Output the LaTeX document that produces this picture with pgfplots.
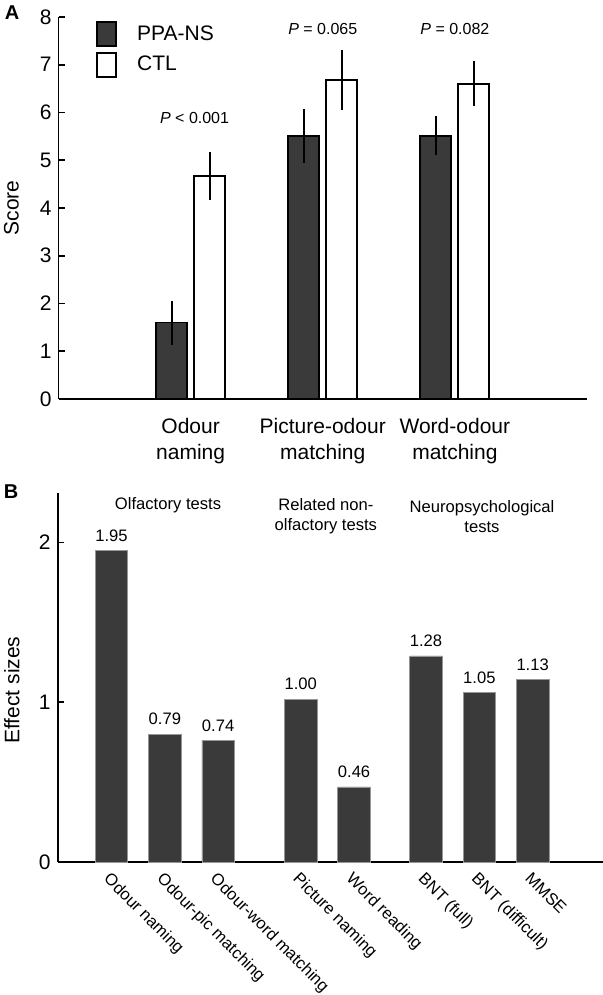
\documentclass[border=0pt]{standalone}
\usepackage{pgfplots}
\pgfplotsset{compat=1.18}
\usepackage{pgfplotstable}
\usepackage{fontspec}
\setmainfont{Liberation Sans}
\definecolor{darkbar}{RGB}{58,58,58}
\definecolor{edgegray}{RGB}{150,150,150}

\pgfplotstableread{
x y e
1 1.60 0.46
2 5.51 0.56
3 5.51 0.41
}\ppa
\pgfplotstableread{
x y e
1 4.67 0.50
2 6.68 0.62
3 6.60 0.47
}\ctl
\pgfplotstableread{
x y lab
0 1.95 1.95
1 0.80 0.79
2 0.76 0.74
3.55 1.02 1.00
4.55 0.47 0.46
5.9 1.29 1.28
6.9 1.06 1.05
7.9 1.14 1.13
}\effect

\begin{document}
\begin{tikzpicture}
\path[use as bounding box] (0,0) rectangle (301.5pt,497.5pt);
% Panel A
\begin{axis}[
  at={(29.25pt,298pt)}, anchor=south west,
  scale only axis, width=264.25pt, height=191pt,
  xmin=0, xmax=4, ymin=0, ymax=8,
  axis x line*=bottom, axis y line*=left,
  axis line style={-, line width=0.9pt},
  ytick={0,1,...,8}, xtick={1,2,3},
  xticklabels={{Odour\\naming},{Picture-odour\\matching},{Word-odour\\matching}},
  xticklabel style={align=center, font=\fontsize{10.5}{13}\selectfont, yshift=-3pt},
  x tick style={draw=none},
  y tick style={line width=0.8pt, black},
  major tick length=3pt, tick align=inside,
  yticklabel style={font=\fontsize{10.5}{12}\selectfont},
  /pgf/number format/assume math mode=true,
  ylabel={Score},
  ylabel style={font=\fontsize{10.5}{12}\selectfont, at={(axis description cs:-0.089,0.5)}, anchor=center},
  ybar, bar width=15.5pt,
  legend style={at={(axis description cs:0.071,0.9895)}, anchor=north west, draw=none, fill=none,
    inner sep=0pt, row sep=2.5pt, font=\fontsize{10.5}{12}\selectfont, nodes={inner sep=0pt}},
  legend cell align=left,
  legend image code/.code={\draw[#1,line width=0.9pt] (0pt,-6pt) rectangle (9.5pt,6pt); \path (19.5pt,0pt);},
  clip=false,
]
\addplot[fill=darkbar, draw=black, line width=0.9pt, bar shift=-9.5pt,
  error bars/.cd, y dir=both, y explicit, error mark=none,
  error bar style={line width=0.9pt, black}]
  table[x=x, y=y, y error=e] {\ppa};
\addlegendentry{PPA-NS}
\addplot[fill=white, draw=black, line width=0.9pt, bar shift=9.5pt,
  error bars/.cd, y dir=both, y explicit, error mark=none,
  error bar style={line width=0.9pt, black}]
  table[x=x, y=y, y error=e] {\ctl};
\addlegendentry{CTL}
\node[font=\fontsize{8}{10}\selectfont] at (axis cs:1.03,5.885) {\textit{P} < 0.001};
\node[font=\fontsize{8}{10}\selectfont] at (axis cs:2,7.75) {\textit{P} = 0.065};
\node[font=\fontsize{8}{10}\selectfont] at (axis cs:3,7.75) {\textit{P} = 0.082};
\node[font=\bfseries\fontsize{10}{12}\selectfont] at (axis description cs:-0.088,1.0105) {A};
\end{axis}
% Panel B
\begin{axis}[
  at={(28.85pt,66.5pt)}, anchor=south west,
  scale only axis, width=272.65pt, height=184.5pt,
  xmin=-1.01, xmax=9.22, ymin=0, ymax=2.31,
  axis x line*=bottom, axis y line*=left,
  axis line style={-, line width=0.9pt},
  ytick={0,1,2},
  xtick=data,
  xticklabels={Odour naming, Odour-pic matching, Odour-word matching, Picture naming, Word reading, BNT (full), BNT (difficult), MMSE},
  xticklabel style={rotate=-45, anchor=north west, font=\fontsize{8.3}{10}\selectfont, inner sep=1pt},
  x tick style={draw=none},
  y tick style={line width=0.8pt, black},
  major tick length=3pt, tick align=inside,
  yticklabel style={font=\fontsize{10.5}{12}\selectfont},
  /pgf/number format/assume math mode=true,
  ylabel={Effect sizes},
  ylabel style={font=\fontsize{10.5}{12}\selectfont, at={(axis description cs:-0.084,0.466)}, anchor=center},
  ybar, bar width=16.25pt,
  nodes near coords, point meta=explicit symbolic,
  every node near coord/.append style={font=\fontsize{8.3}{10}\selectfont, yshift=1pt},
  clip=false,
]
\addplot[fill=darkbar, draw=edgegray, line width=0.4pt]
  table[x=x, y=y, meta=lab] {\effect};
\node[font=\fontsize{8.3}{10}\selectfont, align=center] at (axis cs:1.06,2.231) {Olfactory tests};
\node[font=\fontsize{8.3}{10}\selectfont, align=center] at (axis cs:4.02,2.1625) {Related non-\\olfactory tests};
\node[font=\fontsize{8.3}{10}\selectfont, align=center] at (axis cs:6.95,2.1625) {Neuropsychological\\tests};
\node[font=\bfseries\fontsize{10}{12}\selectfont] at (axis description cs:-0.0856,1.005) {B};
\end{axis}
\end{tikzpicture}
\end{document}
